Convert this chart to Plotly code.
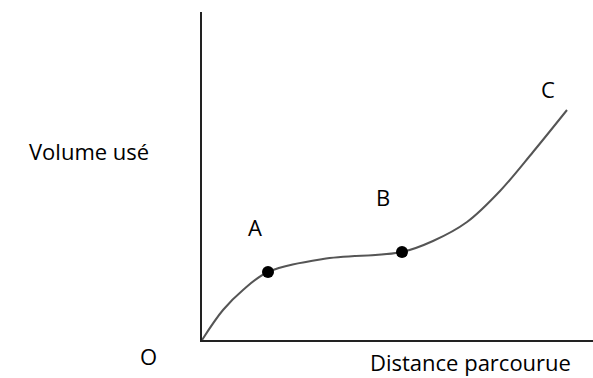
import plotly.graph_objects as go

# Worn volume vs. distance travelled (schematic wear curve)
distance = [0, 21, 41, 66, 121, 200, 231, 265, 298, 331, 365]
volume = [0, 30, 50, 68, 81, 88, 99, 118, 149, 188, 230]

# Marked stage points
point_x = [66, 200]
point_y = [68, 88]

# Text labels and their positions (axis units)
label_text = ["A", "B", "C", "O", "Volume usé", "Distance parcourue"]
label_x = [53, 181, 346, -54, -113, 268]
label_y = [113, 143, 251, -16, 189, -22]

X_MAX = 391
Y_MAX = 328

fig = go.Figure()
fig.add_trace(go.Scatter(
    x=distance, y=volume, mode="lines",
    line=dict(color="#555555", width=2, shape="spline", smoothing=1.0),
    hoverinfo="skip",
))
fig.add_trace(go.Scatter(
    x=point_x, y=point_y, mode="markers",
    marker=dict(color="black", size=12, line=dict(width=0)),
    hoverinfo="skip",
))

font = dict(family="Open Sans, Noto Sans, sans-serif", size=22, color="black")
annotations = [
    dict(x=lx / X_MAX, y=ly / Y_MAX, text=t, showarrow=False,
         xref="paper", yref="paper", xanchor="center", yanchor="middle",
         borderpad=0, font=font)
    for t, lx, ly in zip(label_text, label_x, label_y)
]

fig.update_layout(
    width=593, height=378,
    margin=dict(l=202, r=0, t=12, b=38),
    paper_bgcolor="white", plot_bgcolor="white",
    showlegend=False,
    annotations=annotations,
    xaxis=dict(range=[0, X_MAX], showline=True, linecolor="#222222", linewidth=2,
               showgrid=False, zeroline=False, showticklabels=False, ticks=""),
    yaxis=dict(range=[0, Y_MAX], showline=True, linecolor="#222222", linewidth=2,
               showgrid=False, zeroline=False, showticklabels=False, ticks=""),
)

fig.write_html("out.html")
